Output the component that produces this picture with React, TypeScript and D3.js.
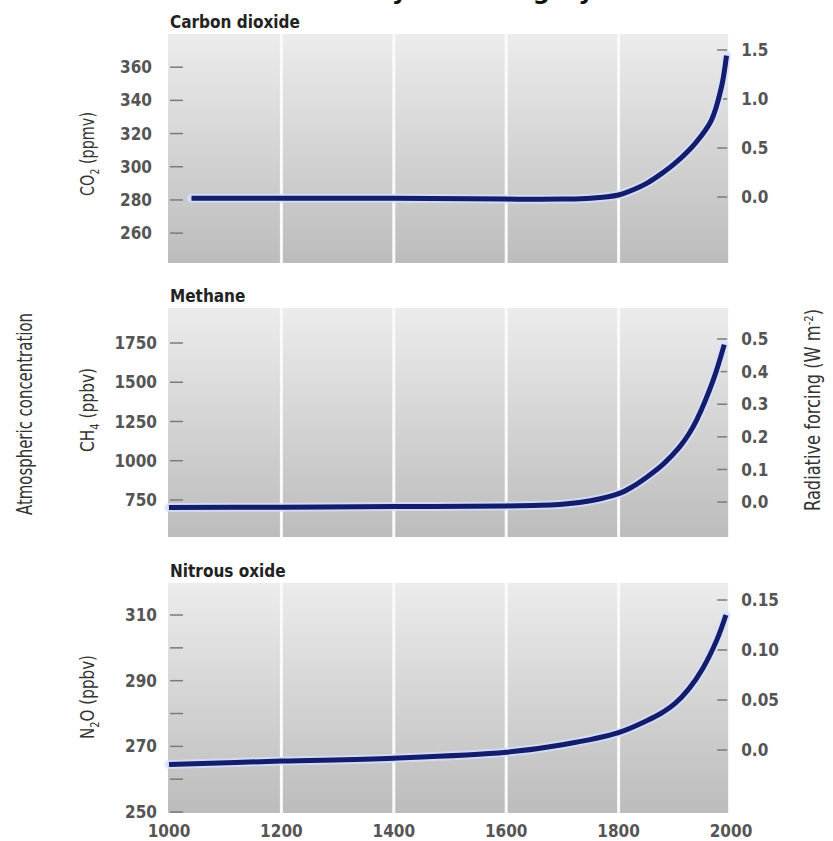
import React from 'react'
import * as d3 from 'd3'

// values
const years = [1000, 1200, 1400, 1600, 1800, 2000]
const gridYears = [1200, 1400, 1600, 1800]

const co2Years = [1040, 1200, 1400, 1600, 1700, 1750, 1800, 1825, 1850, 1877, 1900, 1936, 1965, 1983, 1992]
const co2Values = [281, 281, 281, 280.5, 280.5, 281, 283, 286, 290, 296, 302, 314, 328, 348, 367]
const co2Ticks = [260, 280, 300, 320, 340, 360]
const co2Forcing = [0.0, 0.5, 1.0, 1.5]

const ch4Years = [1000, 1200, 1400, 1600, 1700, 1750, 1800, 1825, 1850, 1880, 1909, 1925, 1939, 1968, 1988]
const ch4Values = [702, 704, 708, 712, 722, 745, 790, 835, 895, 980, 1090, 1170, 1260, 1510, 1740]
const ch4Ticks = [750, 1000, 1250, 1500, 1750]
const ch4Forcing = [0.0, 0.1, 0.2, 0.3, 0.4, 0.5]

const n2oYears = [1000, 1200, 1400, 1600, 1700, 1800, 1850, 1875, 1900, 1925, 1950, 1975, 1991]
const n2oValues = [264.5, 265.5, 266.4, 268.2, 270.5, 274.2, 277.8, 280, 283, 287.5, 293.8, 302.5, 310]
const n2oTicks = [250, 260, 270, 280, 290, 300, 310]
const n2oLabels = [250, 270, 290, 310]
const n2oForcing = [0.0, 0.05, 0.10, 0.15]

const FONT = '"DejaVu Sans Condensed", "Liberation Sans Narrow", sans-serif'

const x = d3.scaleLinear().domain([1000, 2000]).range([169, 731])

type PanelProps = {
  id: string
  title: string
  top: number
  bottom: number
  yDomain: [number, number]
  rDomain: [number, number]
  xs: number[]
  vs: number[]
  ticks: number[]
  labels: number[]
  forcing: number[]
  forcingFmt: (d: number) => string
  labelX: number
  unit: React.ReactNode
  unitY: number
  unitLen: number
}

function Panel (p: PanelProps) {
  const y = d3.scaleLinear().domain(p.yDomain).range([p.bottom, p.top])
  const r = d3.scaleLinear().domain(p.rDomain).range([p.bottom, p.top])
  const pts = p.xs.map((d, i) => [d, p.vs[i]] as [number, number])
  const line = d3.line<[number, number]>()
    .x(d => x(d[0]))
    .y(d => y(d[1]))
    .curve(d3.curveCatmullRom.alpha(0.5))
  const left = x(1000) - 1
  const right = x(1995)
  return (
    <g>
      <text x={left + 2} y={p.top - 6} fontFamily={FONT} fontWeight='bold' fontSize={17} fill='#222'>{p.title}</text>
      <rect x={left} y={p.top} width={right - left} height={p.bottom - p.top} fill={`url(#bg-${p.id})`} />
      {gridYears.map(g => (
        <line key={g} x1={x(g)} x2={x(g)} y1={p.top} y2={p.bottom} stroke='#fafafa' strokeWidth={3} />
      ))}
      {p.ticks.map(t => (
        <line key={t} x1={left + 2} x2={left + 15} y1={y(t)} y2={y(t)} stroke='#7a7a7a' strokeWidth={1.5} />
      ))}
      {p.labels.map(t => (
        <text key={t} x={p.labelX} y={y(t)} dy='0.36em' textAnchor='end' fontFamily={FONT} fontWeight='bold' fontSize={17} fill='#555'>{t}</text>
      ))}
      {p.forcing.map(t => (
        <g key={t}>
          <line x1={right - 11} x2={right - 1} y1={r(t)} y2={r(t)} stroke='#7a7a7a' strokeWidth={1.5} />
          <text x={right + 13} y={r(t)} dy='0.36em' fontFamily={FONT} fontWeight='bold' fontSize={17} fill='#555'>{p.forcingFmt(t)}</text>
        </g>
      ))}
      <path d={line(pts) || ''} fill='none' stroke='#d6e0ff' strokeWidth={9} strokeLinecap='round' opacity={0.8} />
      <path d={line(pts) || ''} fill='none' stroke='#141d6c' strokeWidth={5} strokeLinecap='butt' />
      <text transform={`translate(94,${p.unitY}) rotate(-90)`} textAnchor='middle' fontFamily={FONT} fontSize={20}
        textLength={p.unitLen} lengthAdjust='spacingAndGlyphs' fill='#333'>{p.unit}</text>
    </g>
  )
}

export default function App () {
  const panels = [
    { id: 'co2', top: 34, bottom: 263 },
    { id: 'ch4', top: 308, bottom: 537 },
    { id: 'n2o', top: 583, bottom: 813 }
  ]
  return (
    <svg width={833} height={841} style={{ position: 'absolute', left: 0, top: 0, background: '#fff' }}>
      <defs>
        {panels.map(p => (
          <linearGradient key={p.id} id={`bg-${p.id}`} x1='0' y1='0' x2='0' y2='1'>
            <stop offset='0%' stopColor='#ececec' />
            <stop offset='100%' stopColor='#bcbcbc' />
          </linearGradient>
        ))}
      </defs>

      {/* page title, cut off by the top edge in the reference */}
      <text x={594} y={-1} textAnchor='end' fontFamily='"DejaVu Sans", sans-serif' fontWeight='bold' fontSize={24} fill='#111'>Gas emissions from Industry and category</text>

      <Panel id='co2' title='Carbon dioxide' top={34} bottom={263}
        yDomain={[242, 380]} rDomain={[-0.673, 1.663]}
        xs={co2Years} vs={co2Values} ticks={co2Ticks} labels={co2Ticks}
        forcing={co2Forcing} forcingFmt={d3.format('.1f')} labelX={152}
        unit={<>CO<tspan dy={5} fontSize={13}>2</tspan><tspan dy={-5}> (ppmv)</tspan></>} unitY={154} unitLen={84} />

      <Panel id='ch4' title='Methane' top={308} bottom={537}
        yDomain={[514, 1973]} rDomain={[-0.107, 0.595]}
        xs={ch4Years} vs={ch4Values} ticks={ch4Ticks} labels={ch4Ticks}
        forcing={ch4Forcing} forcingFmt={d3.format('.1f')} labelX={157}
        unit={<>CH<tspan dy={5} fontSize={13}>4</tspan><tspan dy={-5}> (ppbv)</tspan></>} unitY={410} unitLen={84} />

      <Panel id='n2o' title='Nitrous oxide' top={583} bottom={813}
        yDomain={[249.7, 319.75]} rDomain={[-0.063, 0.167]}
        xs={n2oYears} vs={n2oValues} ticks={n2oTicks} labels={n2oLabels}
        forcing={n2oForcing} forcingFmt={d => d === 0 ? '0.0' : d3.format('.2f')(d)} labelX={157}
        unit={<>N<tspan dy={5} fontSize={13}>2</tspan><tspan dy={-5}>O (ppbv)</tspan></>} unitY={697} unitLen={84} />

      {years.map(t => (
        <text key={t} x={x(t)} y={837} textAnchor='middle' fontFamily={FONT} fontWeight='bold' fontSize={17} fill='#555'>{t}</text>
      ))}

      <text transform='translate(32,414) rotate(-90)' textAnchor='middle' fontFamily={FONT} fontSize={21}
        textLength={202} lengthAdjust='spacingAndGlyphs' fill='#333'>Atmospheric concentration</text>
      <text transform='translate(820,410) rotate(-90)' textAnchor='middle' fontFamily={FONT} fontSize={21}
        textLength={202} lengthAdjust='spacingAndGlyphs' fill='#333'>
        Radiative forcing (W m<tspan dy={-7} fontSize={13}>-2</tspan><tspan dy={7}>)</tspan>
      </text>
    </svg>
  )
}
